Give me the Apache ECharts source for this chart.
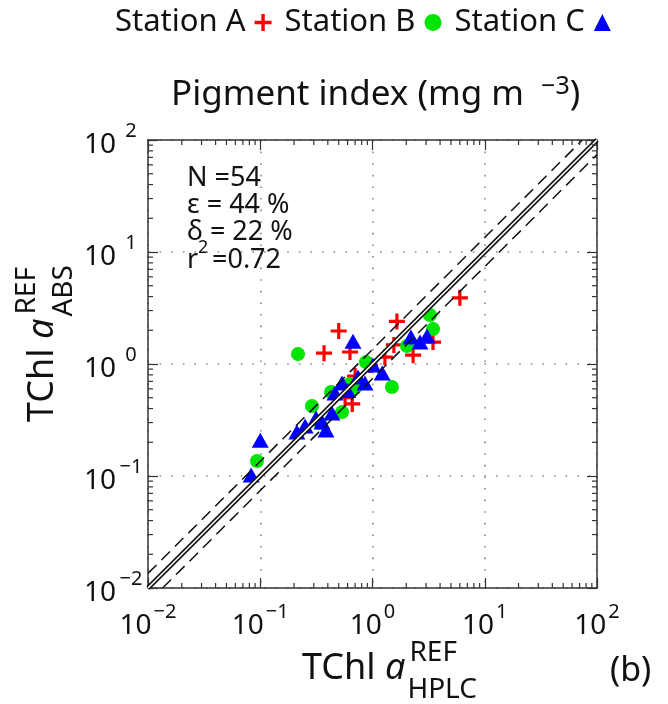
<!DOCTYPE html>
<html><head><meta charset="utf-8">
<script src="https://cdn.jsdelivr.net/npm/echarts@6/dist/echarts.min.js"></script>
<style>html,body{margin:0;padding:0;background:#fff}#c{width:668px;height:704px}</style>
</head><body><div id="c"></div>
<script>
const FONT = '"Noto Sans", "Open Sans", sans-serif';
// ---- data (x = HPLC, y = ABS) ----
const stationA = [[6.0,3.9],[1.65,2.4],[0.50,1.97],[0.37,1.25],[0.63,1.28],[2.3,1.2],[3.46,1.57],[1.55,1.48],[1.29,1.15],[0.70,0.78],[0.57,0.50],[0.66,0.44],[0.95,0.98]];
const stationB = [[0.217,1.23],[0.0935,0.136],[0.289,0.422],[0.34,0.297],[0.427,0.562],[0.535,0.372],[0.698,0.611],[0.875,1.04],[1.49,0.624],[3.25,2.74],[3.46,2.05],[2.03,1.45],[0.62,0.66]];
const stationC = [[0.083,0.102],[0.10,0.209],[0.212,0.247],[0.251,0.279],[0.355,0.303],[0.385,0.258],[0.435,0.365],[0.463,0.551],[0.535,0.676],[0.67,1.6],[0.743,0.766],[1.01,0.98],[1.22,0.832],[0.857,0.676],[2.2,1.74],[2.65,1.57],[3.06,1.78],[0.314,0.33],[0.60,0.58]];
const seriesNames = ['Station A','Station B','Station C'];
const tickExponents = ['−2','−1','0','1','2'];
const statsLines = ['N =54','ε = 44 %','δ = 22 %'];
const rSquared = '=0.72';
const axisMin = 0.01, axisMax = 100;
const dashFactor = 1.35;
// minor tick positions (2..9 x 10^k)
const minorVals = [];
for (let k = -2; k <= 1; k++) for (let m = 2; m <= 9; m++) minorVals.push(m * Math.pow(10, k));

const PLUS = 'path://M6,0H9V6H15V9H9V15H6V9H0V6H6Z';
const INK = '#111';
const chart = echarts.init(document.getElementById('c'), null, {renderer:'canvas'});

function expLabel(v){ const e = Math.round(Math.log10(v)); return tickExponents[e + 2]; }
const cvs = document.createElement('canvas').getContext('2d');
function tw(t, f){ cvs.font = f; return cvs.measureText(t).width; }

function axisTitle(sub){
  const big = 36, small = 28;
  const w1 = tw('TChl ', big + 'px ' + FONT);
  const w2 = tw('a', 'italic ' + big + 'px ' + FONT);
  const mid = -big * 0.36;
  return [
    {type:'text', x:0, y:mid, style:{text:'TChl ', font: big+'px '+FONT, fill:INK, verticalAlign:'middle'}},
    {type:'text', x:w1, y:mid, style:{text:'a', font:'italic '+big+'px '+FONT, fill:INK, verticalAlign:'middle'}},
    {type:'text', x:w1+w2+4, y:mid-16, style:{text:'REF', font: small+'px '+FONT, fill:INK, verticalAlign:'middle'}},
    {type:'text', x:w1+w2+2, y:mid+21, style:{text:sub, font: small+'px '+FONT, fill:INK, verticalAlign:'middle'}}
  ];
}

const lineBase = {type:'line', symbol:'none', silent:true, animation:false, legendHoverLink:false};
const labelRich = {
  b:{fontFamily:FONT, fontSize:28, color:INK, verticalAlign:'bottom'},
  e:{fontFamily:FONT, fontSize:20, color:INK, padding:[0,0,18,2], verticalAlign:'bottom'}
};
const option = {
  animation:false,
  backgroundColor:'#fff',
  textStyle:{fontFamily:FONT},
  title:{
    text:'Pigment index (mg m {s|−3})', left:166, top:69,
    textStyle:{fontFamily:FONT, fontSize:35, fontWeight:'normal', color:INK,
      rich:{s:{fontFamily:FONT, fontSize:25, color:INK, padding:[0,0,18,8], verticalAlign:'bottom'}}}
  },
  legend:{
    data:[{name:'Station A', icon:PLUS},{name:'Station B', icon:'circle'},{name:'Station C', icon:'triangle'}],
    align:'right', left:110, top:2, itemWidth:17, itemHeight:17, itemGap:13,
    textStyle:{fontFamily:FONT, fontSize:31, color:INK, padding:[0,4,0,0]}
  },
  grid:{left:148, right:71, top:140, bottom:116},
  xAxis:[
    {type:'log', logBase:10, min:axisMin, max:axisMax, position:'bottom',
     axisLine:{show:true, lineStyle:{color:'#333', width:1.5}},
     axisTick:{show:true, inside:true, length:10, lineStyle:{color:'#333', width:1.2}},
     splitLine:{show:true, lineStyle:{color:'#888', width:1.6, type:[1.6,10]}},
     axisLabel:{margin:14, formatter:v=>'{b|10}{e|'+expLabel(v)+'}', rich:labelRich}},
    {type:'log', logBase:10, min:axisMin, max:axisMax, position:'top',
     axisLine:{show:true, lineStyle:{color:'#333', width:1.5}},
     axisTick:{show:true, inside:true, length:10, lineStyle:{color:'#333', width:1.2}},
     splitLine:{show:false}, axisLabel:{show:false}}
  ],
  yAxis:[
    {type:'log', logBase:10, min:axisMin, max:axisMax, position:'left',
     axisLine:{show:true, lineStyle:{color:'#333', width:1.5}},
     axisTick:{show:true, inside:true, length:10, lineStyle:{color:'#333', width:1.2}},
     splitLine:{show:true, lineStyle:{color:'#888', width:1.6, type:[1.6,10]}},
     axisLabel:{margin:4, formatter:v=>'{b|10}{e|'+expLabel(v)+'}',
       rich:{b:labelRich.b, e:Object.assign({}, labelRich.e, {width:26, align:'left'})}}},
    {type:'log', logBase:10, min:axisMin, max:axisMax, position:'right',
     axisLine:{show:true, lineStyle:{color:'#333', width:1.5}},
     axisTick:{show:true, inside:true, length:10, lineStyle:{color:'#333', width:1.2}},
     splitLine:{show:false}, axisLabel:{show:false}}
  ],
  series:[
    {name:'Station A', type:'scatter', data:stationA, symbol:PLUS, symbolSize:16, itemStyle:{color:'#ff0000', opacity:1}, z:3},
    {name:'Station B', type:'scatter', data:stationB, symbol:'circle', symbolSize:14, itemStyle:{color:'#00e600', opacity:1}, z:3},
    {name:'Station C', type:'scatter', data:stationC, symbol:'triangle', symbolSize:[17,15], itemStyle:{color:'#0000ff', opacity:1}, z:3},
    Object.assign({}, lineBase, {name:'u', data:[[axisMin, axisMin*dashFactor],[axisMax/dashFactor, axisMax]], lineStyle:{color:INK, width:1.5, type:[12,7]}, z:5}),
    Object.assign({}, lineBase, {name:'l', data:[[axisMin*dashFactor, axisMin],[axisMax, axisMax/dashFactor]], lineStyle:{color:INK, width:1.5, type:[12,7]}, z:5}),
    Object.assign({}, lineBase, {name:'o1', data:[[axisMin,axisMin],[axisMax,axisMax]], lineStyle:{color:INK, width:4.6}, z:6}),
    Object.assign({}, lineBase, {name:'o2', data:[[axisMin,axisMin],[axisMax,axisMax]], lineStyle:{color:'#fff', width:1.6}, z:7}),
    {type:'custom', name:'minor', silent:true, clip:false, z:8,
     data: minorVals.map(v=>[v,1,0]).concat(minorVals.map(v=>[1,v,1])),
     encode:{x:0, y:1},
     renderItem:function(params, api){
       const cs = params.coordSys; const t = api.value(2);
       const p = api.coord([api.value(0), api.value(1)]);
       const L = 5, st = {stroke:'#333', lineWidth:1.2};
       if (t === 0) return {type:'group', children:[
         {type:'line', shape:{x1:p[0], y1:cs.y+cs.height, x2:p[0], y2:cs.y+cs.height-L}, style:st},
         {type:'line', shape:{x1:p[0], y1:cs.y, x2:p[0], y2:cs.y+L}, style:st}]};
       return {type:'group', children:[
         {type:'line', shape:{x1:cs.x, y1:p[1], x2:cs.x+L, y2:p[1]}, style:st},
         {type:'line', shape:{x1:cs.x+cs.width, y1:p[1], x2:cs.x+cs.width-L, y2:p[1]}, style:st}]};
     }}
  ],
  graphic:[
    {type:'group', x:302, y:682, children: axisTitle('HPLC')},
    {type:'group', x:56, y:422, rotation:Math.PI/2, children: axisTitle('ABS')},
    {type:'text', x:610, y:671, style:{text:'(b)', font:'34px '+FONT, fill:INK, verticalAlign:'middle'}},
    {type:'text', x:187, y:178, style:{text:statsLines[0], font:'27px '+FONT, fill:INK, verticalAlign:'middle'}},
    {type:'text', x:187, y:205, style:{text:statsLines[1], font:'27px '+FONT, fill:INK, verticalAlign:'middle'}},
    {type:'text', x:187, y:232, style:{text:statsLines[2], font:'27px '+FONT, fill:INK, verticalAlign:'middle'}},
    {type:'text', x:187, y:260, style:{text:'r', font:'27px '+FONT, fill:INK, verticalAlign:'middle'}},
    {type:'text', x:198, y:248, style:{text:'2', font:'18px '+FONT, fill:INK, verticalAlign:'middle'}},
    {type:'text', x:212, y:260, style:{text:rSquared, font:'27px '+FONT, fill:INK, verticalAlign:'middle'}}
  ]
};
chart.setOption(option);
</script></body></html>
